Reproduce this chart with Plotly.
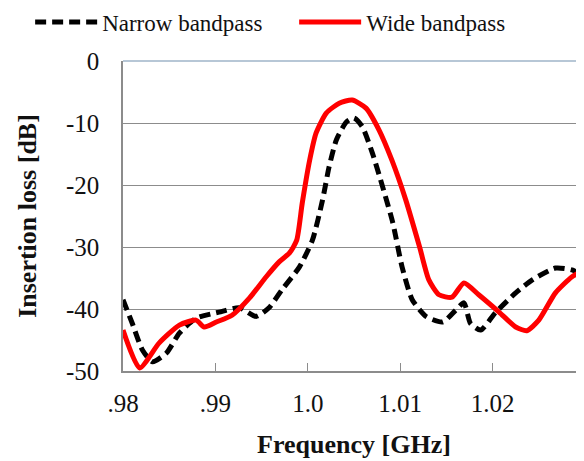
import plotly.graph_objects as go

freq_narrow = [0.9800, 0.9810, 0.9821, 0.9832, 0.9847, 0.9861, 0.9879, 0.9904, 0.9926, 0.9944,
               0.9958, 0.9972, 0.9991, 1.0005, 1.0016, 1.0023, 1.0031, 1.0042, 1.0050, 1.0059,
               1.0070, 1.0081, 1.0092, 1.0102, 1.0113, 1.0128, 1.0146, 1.0160, 1.0169, 1.0176,
               1.0187, 1.0203, 1.0225, 1.0243, 1.0268, 1.0286, 1.0300]
loss_narrow = [-38.5, -42.3, -46.6, -48.5, -47.1, -43.9, -41.5, -40.5, -39.8, -41.2,
               -39.8, -36.9, -33.2, -28.9, -22.4, -17.1, -12.7, -9.8, -9.2, -10.6,
               -14.9, -20.3, -26.1, -33.2, -38.5, -41.2, -42.1, -40.2, -39.0, -42.3,
               -43.4, -40.6, -37.4, -35.3, -33.4, -33.7, -34.8]

freq_wide = [0.9800, 0.9818, 0.9839, 0.9861, 0.9879, 0.9888, 0.9901, 0.9918, 0.9937, 0.9955,
             0.9969, 0.9980, 0.9988, 0.9994, 1.0002, 1.0009, 1.0020, 1.0034, 1.0048, 1.0063,
             1.0077, 1.0091, 1.0106, 1.0121, 1.0131, 1.0142, 1.0156, 1.0169, 1.0185, 1.0207,
             1.0225, 1.0237, 1.0250, 1.0268, 1.0286, 1.0300]
loss_wide = [-43.4, -49.5, -45.5, -42.6, -41.8, -42.9, -42.1, -41.0, -38.2, -34.8,
             -32.4, -31.0, -28.9, -22.9, -16.0, -11.6, -8.4, -6.8, -6.3, -7.6,
             -11.1, -16.0, -22.4, -30.0, -35.3, -37.7, -38.1, -35.8, -37.7, -40.5,
             -42.9, -43.5, -41.8, -37.4, -34.8, -33.7]

x_tick_vals = [0.98, 0.99, 1.00, 1.01, 1.02]
x_tick_text = [".98", ".99", "1.0", "1.01", "1.02"]
y_tick_vals = [0, -10, -20, -30, -40, -50]
y_tick_text = ["0", "-10", "-20", "-30", "-40", "-50"]

FONT = "Liberation Serif"
GRAY = "#8c8c8c"

fig = go.Figure()
fig.add_trace(go.Scatter(x=freq_narrow, y=loss_narrow, mode="lines", name="Narrow bandpass",
                         line=dict(color="black", width=5, dash="11px,6px", shape="spline", smoothing=0.6)))
fig.add_trace(go.Scatter(x=freq_wide, y=loss_wide, mode="lines", name="Wide bandpass",
                         line=dict(color="#ff0000", width=5, shape="spline", smoothing=0.6)))

fig.add_shape(type="line", xref="paper", yref="paper", x0=0, x1=1, y0=1, y1=1,
              line=dict(color="#9fb4c9", width=1.5), layer="below")

fig.update_layout(
    width=584, height=461,
    margin=dict(l=115, r=7, t=53, b=98, autoexpand=False),
    paper_bgcolor="white", plot_bgcolor="white",
    font=dict(family=FONT, size=25, color="#111111"),
    legend=dict(orientation="h", x=-0.201, y=1.126,
                xanchor="left", yanchor="middle", itemwidth=62, font=dict(family=FONT, size=23),
                bgcolor="rgba(0,0,0,0)", entrywidth=187, entrywidthmode="pixels"),
    xaxis=dict(range=[0.98, 1.03], tickvals=x_tick_vals, ticktext=x_tick_text,
               showgrid=False, zeroline=False, showline=True, linecolor=GRAY, linewidth=1.5,
               ticks="inside", ticklen=8, tickcolor=GRAY, ticklabelstandoff=9,
               tickfont=dict(family=FONT, size=25),
               title=dict(text="<b>Frequency [GHz]</b>", standoff=19, font=dict(family=FONT, size=26))),
    yaxis=dict(range=[-50, 0], tickvals=y_tick_vals, ticktext=y_tick_text,
               showgrid=True, gridcolor=GRAY, gridwidth=1,
               zeroline=False, showline=True, linecolor=GRAY, linewidth=1.5,
               ticks="", ticklabelstandoff=17, tickfont=dict(family=FONT, size=25),
               title=dict(text="<b>Insertion loss [dB]</b>", standoff=22, font=dict(family=FONT, size=26))),
)
fig.write_html("out.html")
